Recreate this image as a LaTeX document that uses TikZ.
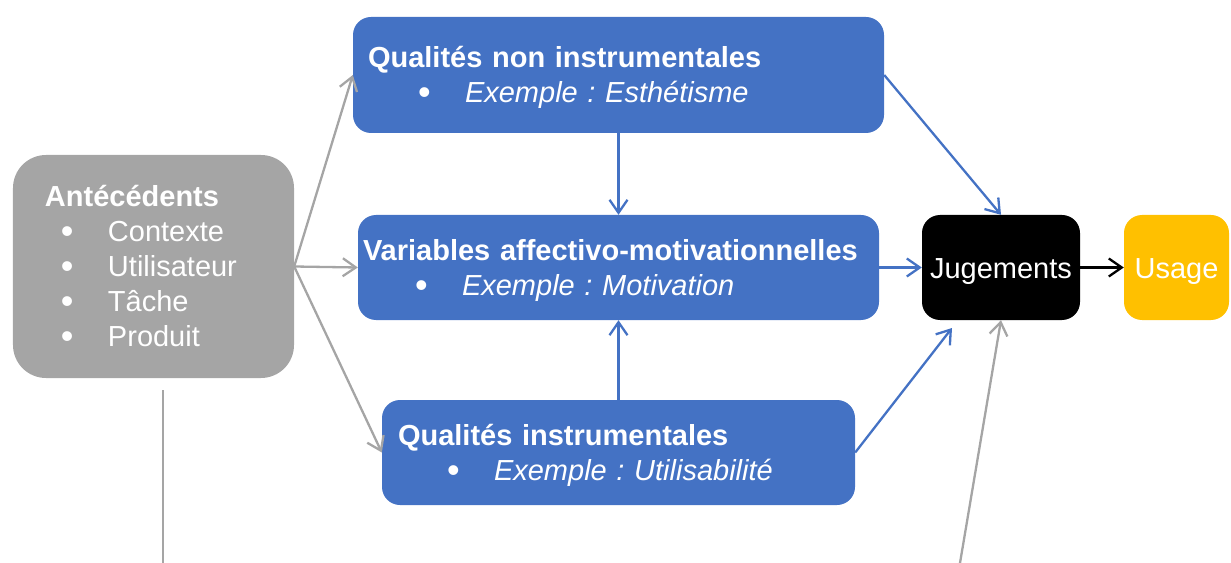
\documentclass[tikz,border=0pt]{standalone}
\usepackage{fontspec}
\setmainfont{Liberation Sans}
\usetikzlibrary{arrows.meta}
\definecolor{bleu}{HTML}{4472C4}
\definecolor{gris}{HTML}{A5A5A5}
\definecolor{jaune}{HTML}{FFC000}
\frenchspacing
\newcommand{\puce}[2]{\hspace*{#1}\makebox[47bp][l]{\fontsize{36bp}{35bp}\selectfont\raisebox{-2bp}{\textbullet}}#2}
\tikzset{
  every node/.style={font=\fontsize{29bp}{35bp}\selectfont,text=white,inner ysep=0pt,text height=25bp,text depth=4bp},
  bloc/.style={fill=bleu,rounded corners=18bp,align=left,text depth=39bp},
  antec/.style={fill=gris,rounded corners=33bp,align=left,text depth=144bp},
  juge/.style={fill=black,rounded corners=18bp,minimum width=158bp,minimum height=105bp,text height=27bp},
  usage/.style={fill=jaune,rounded corners=18bp,minimum width=105bp,minimum height=105bp,text height=27bp},
  fleche/.style={->,line width=2.3bp},
}
\begin{document}
\begin{tikzpicture}[x=1bp,y=-1bp,>={Straight Barb[length=13bp,width=18bp]}]
\useasboundingbox (0,0) rectangle (1231,563);
%%
\node (ant) at (153.5,266.5) [antec,minimum width=281bp,minimum height=223bp,inner xsep=32bp,text width=217bp]
  {\textbf{Antécédents}\\\puce{16bp}{Contexte}\\\puce{16bp}{Utilisateur}\\\puce{16bp}{Tâche}\\\puce{16bp}{Produit}};
  \node (qni) at (618.5,75) [bloc,minimum width=531bp,minimum height=116bp,inner xsep=15bp,text width=501bp]
  {\textbf{Qualités non instrumentales}\\\puce{50bp}{\textit{Exemple : Esthétisme}}};
  \node (vam) at (618.5,267.5) [bloc,minimum width=521bp,minimum height=105bp,inner xsep=5bp,text width=511bp]
  {\textbf{Variables affectivo-motivationnelles}\\\puce{52bp}{\textit{Exemple : Motivation}}};
  \node (qi) at (618.5,452.5) [bloc,minimum width=473bp,minimum height=105bp,inner xsep=16bp,text width=441bp]
  {\textbf{Qualités instrumentales}\\\puce{49bp}{\textit{Exemple : Utilisabilité}}};
  \node (jug) at (1001,267.5) [juge] {Jugements};
  \node (use) at (1176.5,267.5) [usage] {Usage};
  \coordinate (ant_bas_h) at (163,390);
  \coordinate (ant_bas_b) at (163,563);
  \coordinate (jug_bas) at (960,563);
  \coordinate (jug_sw) at (952,328);
%
  \draw [gris,fleche] (ant.east) -- (qni.west);
  \draw [gris,fleche] (ant.east) -- (vam.west);
  \draw [gris,fleche] (ant.east) -- (qi.west);
  \draw [bleu,fleche] (qni.south) -- (vam.north);
  \draw [bleu,fleche] (qi.north) -- (vam.south);
  \draw [bleu,fleche] (vam.east) -- (jug.west);
  \draw [bleu,fleche] (qni.east) -- (jug.north);
  \draw [bleu,fleche] (qi.east) -- (jug_sw);
  \draw [black,fleche] (jug.east) -- (use.west);
  \draw [gris,fleche] (jug_bas) -- (jug.south);
  \draw [gris,line width=2.3bp] (ant_bas_h) -- (ant_bas_b);
%
\end{tikzpicture}
\end{document}
